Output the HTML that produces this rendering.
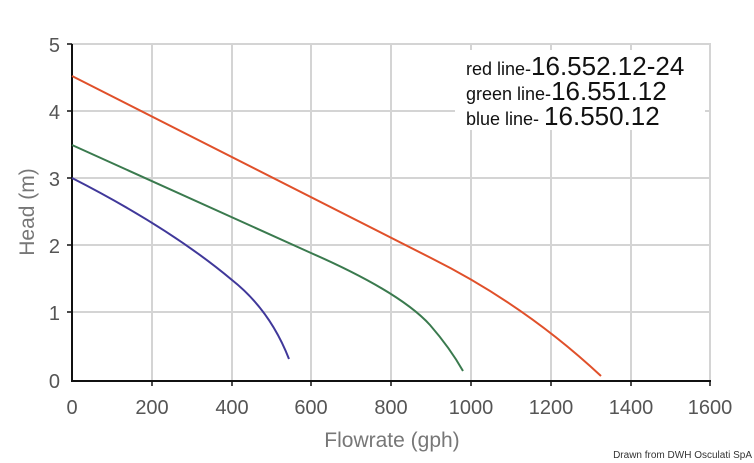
<!DOCTYPE html><html><head><style>body{margin:0;background:#fff}svg{display:block}</style></head><body>
<svg width="754" height="463" xmlns="http://www.w3.org/2000/svg" font-family="Liberation Sans, sans-serif">
<g stroke="#d4d4d4" stroke-width="2">
<line x1="72" y1="44" x2="711" y2="44"/><line x1="72" y1="111" x2="711" y2="111"/><line x1="72" y1="178" x2="711" y2="178"/><line x1="72" y1="245" x2="711" y2="245"/><line x1="72" y1="312" x2="711" y2="312"/>
<line x1="152" y1="44" x2="152" y2="381"/><line x1="232" y1="44" x2="232" y2="381"/><line x1="311" y1="44" x2="311" y2="381"/><line x1="391" y1="44" x2="391" y2="381"/><line x1="471" y1="44" x2="471" y2="381"/><line x1="551" y1="44" x2="551" y2="381"/><line x1="631" y1="44" x2="631" y2="381"/><line x1="710" y1="44" x2="710" y2="381"/>
</g>
<rect x="455" y="50" width="250" height="80" fill="#fff"/>
<g stroke="#111" stroke-width="2"><line x1="72" y1="44" x2="72" y2="382"/><line x1="71" y1="381" x2="711" y2="381"/>
<g stroke-width="1.5"><line x1="67" y1="44" x2="72" y2="44"/><line x1="67" y1="111" x2="72" y2="111"/><line x1="67" y1="178" x2="72" y2="178"/><line x1="67" y1="245" x2="72" y2="245"/><line x1="67" y1="312" x2="72" y2="312"/>
<line x1="152" y1="381" x2="152" y2="386"/><line x1="232" y1="381" x2="232" y2="386"/><line x1="311" y1="381" x2="311" y2="386"/><line x1="391" y1="381" x2="391" y2="386"/><line x1="471" y1="381" x2="471" y2="386"/><line x1="551" y1="381" x2="551" y2="386"/><line x1="631" y1="381" x2="631" y2="386"/><line x1="710" y1="381" x2="710" y2="386"/></g></g>
<g fill="none" stroke-width="2">
<path d="M72 76 L431 258 Q525 305 601 376" stroke="#e0502a"/>
<path d="M72 145 L311 253 Q400 292 430 325 Q450 348 463 371" stroke="#3a7a4e"/>
<path d="M72 178 Q170 228 232 280 Q270 310 289 359" stroke="#40389a"/>
</g>
<g fill="#555" font-size="20" text-anchor="end"><text x="60" y="52">5</text><text x="60" y="119">4</text><text x="60" y="186">3</text><text x="60" y="253">2</text><text x="60" y="320">1</text><text x="60" y="388">0</text></g>
<g fill="#555" font-size="20" text-anchor="middle"><text x="72" y="414">0</text><text x="152" y="414">200</text><text x="232" y="414">400</text><text x="311" y="414">600</text><text x="391" y="414">800</text><text x="471" y="414">1000</text><text x="551" y="414">1200</text><text x="631" y="414">1400</text><text x="710" y="414">1600</text></g>
<text x="392" y="447" fill="#777" font-size="21" text-anchor="middle">Flowrate (gph)</text>
<text transform="translate(34,212) rotate(-90)" fill="#777" font-size="21" text-anchor="middle">Head (m)</text>
<g fill="#111"><text x="466" y="75" font-size="18">red line-<tspan font-size="26">16.552.12-24</tspan></text>
<text x="466" y="100" font-size="18">green line-<tspan font-size="26">16.551.12</tspan></text>
<text x="466" y="125" font-size="18">blue line- <tspan font-size="26">16.550.12</tspan></text></g>
<text x="752" y="458" fill="#333" font-size="10" text-anchor="end">Drawn from DWH Osculati SpA</text>
</svg></body></html>
